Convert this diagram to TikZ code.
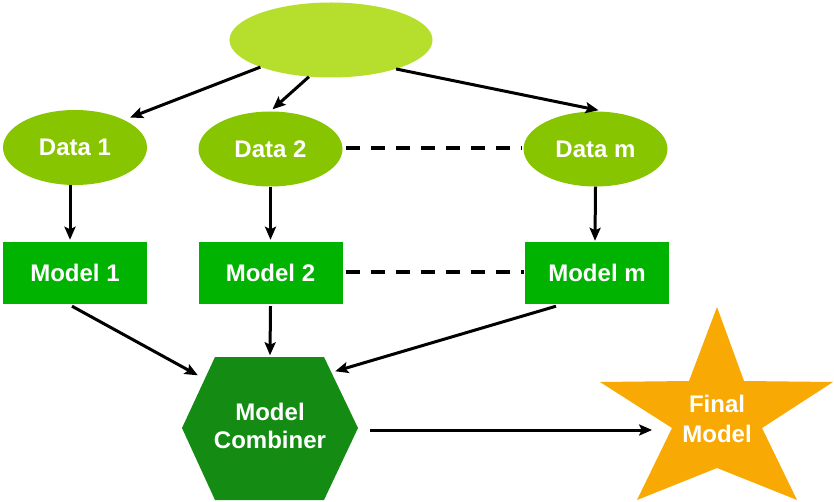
\documentclass[tikz,border=0pt]{standalone}
\usepackage{fontspec}
\setmainfont{Liberation Sans}
\usetikzlibrary{arrows.meta,calc,shapes.geometric}
\definecolor{topc}{HTML}{B5DE2D}
\definecolor{datac}{HTML}{86C500}
\definecolor{modelc}{HTML}{00B300}
\definecolor{hexc}{HTML}{148C14}
\definecolor{starc}{HTML}{F8A904}
\begin{document}
\begin{tikzpicture}[x=1pt,y=-1pt,
  lbl/.style={font=\bfseries\fontsize{24}{28}\selectfont, text=white, align=center},
  dataell/.style={ellipse, fill=datac, minimum width=144pt, minimum height=75pt, inner sep=0pt, lbl},
  modelbox/.style={rectangle, fill=modelc, minimum width=144pt, minimum height=62pt, inner sep=0pt, lbl},
  arr/.style={line width=3pt, -{Stealth[length=13pt,width=11pt,inset=2.5pt]}},
  dashline/.style={line width=3.2pt, dash pattern=on 14pt off 11pt}]
\useasboundingbox (0,0) rectangle (834,502);
\fill[white] (0,0) rectangle (834,502);

% top ellipse
\node[ellipse, fill=topc, minimum width=203pt, minimum height=75pt, inner sep=0pt] (top) at (331,40) {};

% data ellipses
\node[dataell] (d1) at (75,147.5) {Data 1};
\node[dataell] (d2) at (270.5,149) {Data 2};
\node[dataell] (dm) at (595.5,149) {Data m};

% models
\node[modelbox] (m1) at (75,273) {Model 1};
\node[modelbox] (m2) at (270.5,273) {Model 2};
\node[modelbox] (mm) at (597,273) {Model m};

% hexagon
\fill[hexc] (182,428) -- (215,357) -- (324,357) -- (358,428) -- (324,500) -- (215,500) -- cycle;
\node[lbl, minimum width=176pt, minimum height=143pt, inner sep=0pt] (hex) at (270,426) {Model\\Combiner};

% star
\fill[starc] (717,307) -- (744,381) -- (833,382) -- (762,428) -- (797,500) -- (717,468)
  -- (637,500) -- (672,428) -- (600,382) -- (689,381) -- cycle;
\node[lbl, font=\bfseries\fontsize{24}{30}\selectfont, inner sep=0pt] (fm) at (717,419) {Final\\Model};

% arrows top -> data
\draw[arr] (top.201) -- ($(d1.center)+(55,-30)$);
\draw[arr] (top.239) -- ($(d2.north)+(2,-2)$);
\draw[arr] (top.-24) -- ($(dm.north)+(3,-1)$);

% data -> model
\draw[arr] ($(d1.south)+(-5,0)$) -- ($(m1.north)+(-5,-2)$);
\draw[arr] (d2.south) -- ($(m2.north)+(0,-2)$);
\draw[arr] (dm.south) -- ($(mm.north)+(-2,-1)$);

% dashed
\draw[dashline] ($(d2.east)+(3,-1)$) -- ($(dm.west)+(-1,-1)$);
\draw[dashline] ($(m2.east)+(3,-1)$) -- ($(mm.west)+(-1,-1)$);

% model -> hex
\draw[arr] ($(m1.south)+(-3,2)$) -- ($(hex.north west)+(16,21)$);
\draw[arr] ($(m2.south)+(0,2)$) -- ($(hex.north)+(0,1)$);
\draw[arr] ($(mm.south)+(-41,2)$) -- ($(hex.north east)+(-23,17)$);

% hex -> star
\draw[arr] ($(hex.east)+(12,4)$) -- ($(fm.west)+(-30,11)$);
\end{tikzpicture}
\end{document}
